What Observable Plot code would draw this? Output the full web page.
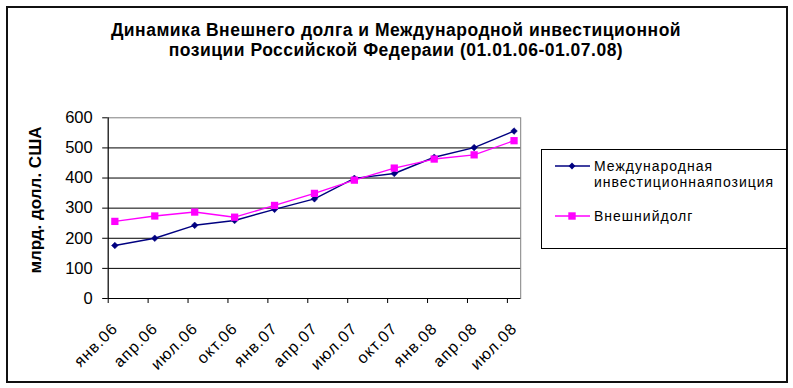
<!DOCTYPE html>
<html><head><meta charset="utf-8">
<script src="https://cdn.jsdelivr.net/npm/d3@7"></script>
<script src="https://cdn.jsdelivr.net/npm/@observablehq/plot@0.6"></script>
<style>
body{margin:0;background:#fff;font-family:"Liberation Sans",Arial,sans-serif;color:#000}
#wrap{position:relative;width:793px;height:388px;overflow:hidden;background:#fff}
#border{position:absolute;left:6px;top:6px;width:778px;height:373px;border:2px solid #111}
#title{position:absolute;left:0;top:19.5px;width:792px;text-align:center;font-weight:bold;font-size:17.5px;letter-spacing:0.5px;line-height:20px}
#chart{position:absolute;left:0;top:0}
#chart svg g.xlab text{letter-spacing:1px}
#ylabel{position:absolute;left:-64px;top:190px;width:200px;text-align:center;font-weight:bold;font-size:17px;line-height:20px;transform:rotate(-90deg);transform-origin:center}
#legend{position:absolute;left:541px;top:149px;width:244px;height:98px;border:1px solid #000;background:#fff}
.lt{position:absolute;left:52px;font-size:14px;line-height:16px;letter-spacing:1px;white-space:nowrap}
.sw{position:absolute;left:13px}
</style></head><body>
<div id="wrap">
  <div id="border"></div>
  <div id="chart"></div>
  <div id="title"></div>
  <div id="ylabel"></div>
  <div id="legend"></div>
</div>
<script>
const titleLines = ["Динамика Внешнего долга и Международной инвестиционной", "позиции Российской Федераии (01.01.06-01.07.08)"];
const yTitle = "млрд. долл. США";
const dates = ["2006-01","2006-04","2006-07","2006-10","2007-01","2007-04","2007-07","2007-10","2008-01","2008-04","2008-07"];
const tickLabels = ["янв.06","апр.06","июл.06","окт.06","янв.07","апр.07","июл.07","окт.07","янв.08","апр.08","июл.08"];
const seriesNames = ["Международная\nинвестиционнаяпозиция", "Внешнийдолг"];
const investPosition = [176, 200, 243, 259, 296, 331, 399, 415, 469, 501, 556];
const externalDebt = [256, 274, 287, 270, 309, 349, 393, 433, 463, 477, 524];
const yTicks = [0, 100, 200, 300, 400, 500, 600];
const colors = ["#000080", "#ff00ff"];

const monthIndex = d => { const [y, m] = d.split("-").map(Number); return (y - 2006) * 12 + (m - 1); };
const months = dates.map(monthIndex);
const rows = (vals, s) => vals.map((v, i) => ({m: months[i] + 0.5, v, s}));
const inv = rows(investPosition, 0);
const debt = rows(externalDebt, 1);
const labels = months.map((m, i) => ({m: m + 0.5, t: tickLabels[i]}));

document.getElementById("title").innerHTML = titleLines.join("<br>");
document.getElementById("ylabel").textContent = yTitle;

const plot = Plot.plot({
  width: 793, height: 380,
  marginLeft: 107.7, marginRight: 272.8, marginTop: 117.3, marginBottom: 82,
  x: {type: "linear", domain: [0, 31], axis: null, label: null},
  y: {domain: [0, 600], axis: null, label: null},
  style: {background: "transparent", fontFamily: "Liberation Sans, Arial, sans-serif", fontSize: "16px", color: "#000"},
  marks: [
    Plot.frame({stroke: "#808080"}),
    Plot.ruleY(yTicks.filter(d => d > 0 && d < 600), {stroke: "#000"}),
    Plot.ruleY([0], {stroke: "#000"}),
    Plot.ruleX([0], {stroke: "#000"}),
    Plot.axisY({ticks: yTicks, tickSize: 5.5, tickPadding: 10, tickFormat: d => String(d), fontSize: 16.5, label: null}),
    Plot.ruleX(months, {x: d => d, y1: 0, y2: 0, insetBottom: -5, stroke: "#000"}),
    Plot.text(labels, {x: "m", text: "t", frameAnchor: "bottom", dx: 4, dy: 31, rotate: -45, textAnchor: "end", lineAnchor: "bottom", fontSize: 16, className: "xlab"}),
    Plot.line(inv, {x: "m", y: "v", stroke: colors[0], strokeWidth: 1.4}),
    Plot.dot(inv, {x: "m", y: "v", symbol: "diamond2", r: 3, fill: colors[0], stroke: colors[0], strokeWidth: 0.5}),
    Plot.line(debt, {x: "m", y: "v", stroke: colors[1], strokeWidth: 1.4}),
    Plot.dot(debt, {x: "m", y: "v", symbol: "square", r: 4.1, fill: colors[1]})
  ]
});
document.getElementById("chart").appendChild(plot);

// legend
const leg = document.getElementById("legend");
const entries = [
  {name: seriesNames[0], color: colors[0], sym: "diamond", lineY: 16, textTop: 8},
  {name: seriesNames[1], color: colors[1], sym: "square", lineY: 66, textTop: 58.4}
];
entries.forEach(e => {
  const sw = document.createElementNS("http://www.w3.org/2000/svg", "svg");
  sw.setAttribute("width", 36); sw.setAttribute("height", 12);
  sw.setAttribute("class", "sw");
  sw.style.top = (e.lineY - 6) + "px";
  let shape = e.sym === "diamond"
    ? `<path d="M17,2.6L20.4,6L17,9.4L13.6,6Z" fill="${e.color}"/>`
    : `<rect x="13.3" y="2.3" width="7.4" height="7.4" fill="${e.color}"/>`;
  sw.innerHTML = `<line x1="0" x2="35" y1="6" y2="6" stroke="${e.color}" stroke-width="1.4"/>` + shape;
  leg.appendChild(sw);
  const t = document.createElement("div");
  t.className = "lt";
  t.style.top = e.textTop + "px";
  t.innerHTML = e.name.split("\n").join("<br>");
  leg.appendChild(t);
});
</script>
</body></html>
